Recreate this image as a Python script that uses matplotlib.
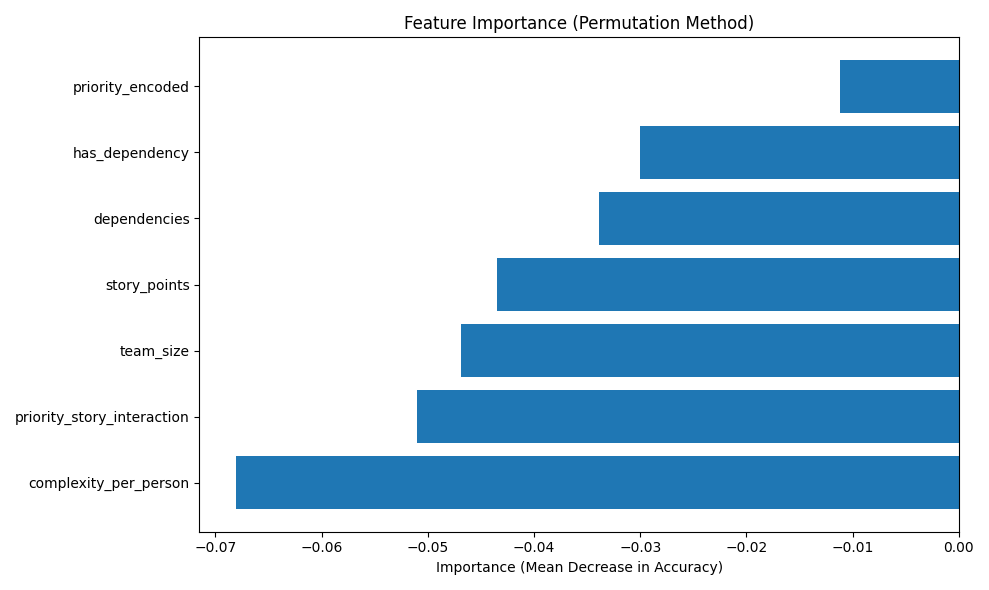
import matplotlib
matplotlib.use("Agg")
import matplotlib.pyplot as plt

features = ["complexity_per_person", "priority_story_interaction", "team_size",
            "story_points", "dependencies", "has_dependency", "priority_encoded"]
importance = [-0.0681, -0.0510, -0.0469, -0.0435, -0.0339, -0.0300, -0.0112]

fig, ax = plt.subplots(figsize=(9.89, 5.9), dpi=100)
ax.barh(features, importance, color="#1f77b4")
ax.set_xlabel("Importance (Mean Decrease in Accuracy)")
ax.set_title("Feature Importance (Permutation Method)")
ax.set_xlim(right=0)
fig.tight_layout()
fig.savefig("out.png")
